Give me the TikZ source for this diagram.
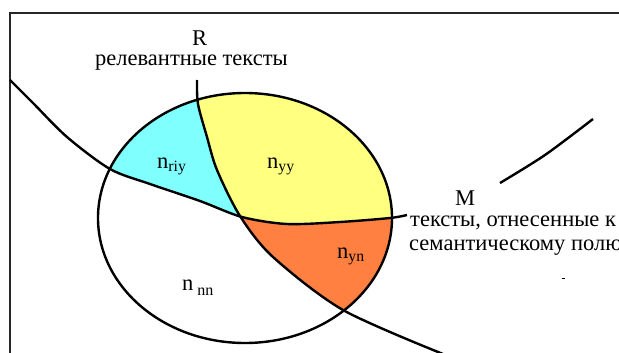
\documentclass[tikz,border=0pt]{standalone}
\usepackage{fontspec}
\setmainfont{Liberation Serif}
\usetikzlibrary{positioning}
\definecolor{relcyan}{RGB}{128,255,255}
\definecolor{relyellow}{RGB}{255,255,128}
\definecolor{relorange}{RGB}{255,128,64}
\newcommand{\curveR}{plot[smooth] coordinates {(197,80) (198,104) (207,137) (217,170) (240,216) (273,257) (343,310) (443,354)}}
\newcommand{\curveM}{plot[smooth] coordinates {(10,80) (33,103) (67,137) (110,169) (150,184) (200,201) (242,217) (287,224) (340,222) (390,218) (407,215)}}
\tikzset{bnd/.style={line width=2.4pt,line join=round},
  lbl/.style={inner sep=0pt,anchor=base west,font=\fontsize{22.5}{26}\selectfont}}
\begin{document}
\begin{tikzpicture}[x=1pt,y=-1pt]
\useasboundingbox (0,0) rectangle (619,353);
% frame
\draw[line width=1.6pt,black!85] (619,13) -- (10,13) -- (10,353);
% coloured parts of the ellipse
\begin{scope}
\clip (245,218) ellipse [x radius=147,y radius=125];
\begin{scope}
\clip \curveM -- (619,215) -- (619,0) -- (0,0) -- (0,80) -- cycle;
\fill[relcyan] \curveR -- (0,354) -- (0,0) -- (197,0) -- cycle;
\fill[relyellow] \curveR -- (619,354) -- (619,0) -- (197,0) -- cycle;
\end{scope}
\begin{scope}
\clip \curveR -- (619,354) -- (619,0) -- (197,0) -- cycle;
\fill[relorange] \curveM -- (619,215) -- (619,354) -- (0,354) -- (0,80) -- cycle;
\end{scope}
\end{scope}
% boundaries
\draw[bnd] (245,218) ellipse [x radius=147,y radius=125];
\draw[bnd] \curveR;
\draw[bnd] \curveM;
\draw[bnd] plot[smooth] coordinates {(500,183) (545,155) (593,119)};
% texts
\node[lbl] (Rlabel) at (192,46) {R};
\node[lbl] (Rtext) at (95,66) {релевантные тексты};
\node[lbl] (Mlabel) at (455,205) {M};
\node[lbl] (Mtext) at (410,226) {тексты, отнесенные к};
\node[lbl] (Mtext2) at (409,250) {семантическому полю};
\node[lbl] (nriy) at (157,168) {n\textsubscript{riy}};
\node[lbl] (nyy) at (267,168) {n\textsubscript{yy}};
\node[lbl] (nyn) at (337,258) {n\textsubscript{yn}};
\node[lbl] (nnn) at (182,290) {n\hspace{4pt}\raisebox{-5pt}{\fontsize{16}{16}\selectfont nn}};
\draw[line width=1pt] (562,278) -- (565,278);
\end{tikzpicture}
\end{document}
